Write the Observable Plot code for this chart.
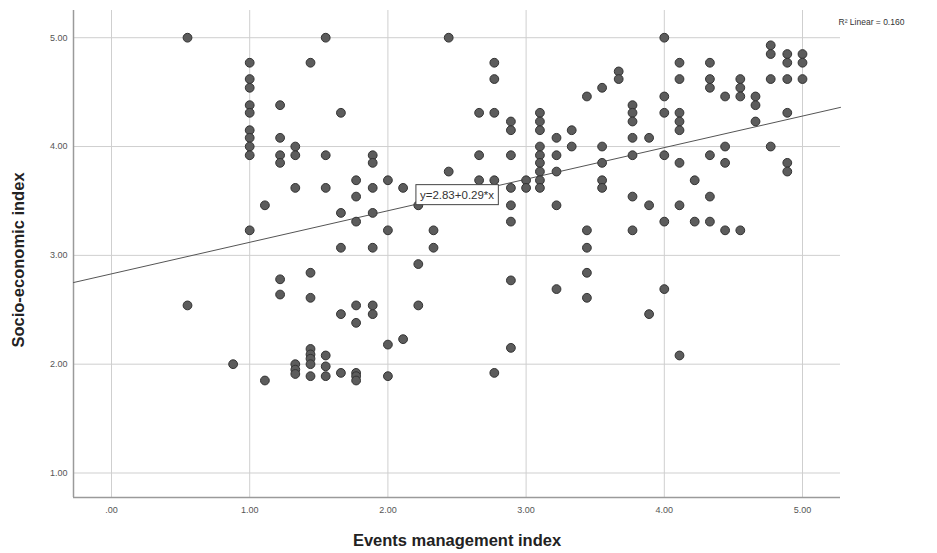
<!DOCTYPE html>
<html><head><meta charset="utf-8">
<script src="https://cdn.jsdelivr.net/npm/d3@7"></script>
<script src="https://cdn.jsdelivr.net/npm/@observablehq/plot@0.6"></script>
<style>body{margin:0;background:#fff} #chart{width:937px;height:553px}</style>
</head><body><div id="chart"></div>
<script>
// Events management index (x) and Socio-economic index (y), one entry per respondent
const eventsIndex = [
  0.55,0.55,
  0.88,
  1.00,1.00,1.00,1.00,1.00,1.00,1.00,1.00,1.00,1.00,
  1.11,1.11,
  1.22,1.22,1.22,1.22,1.22,1.22,
  1.33,1.33,1.33,1.33,1.33,1.33,
  1.44,1.44,1.44,1.44,1.44,1.44,1.44,1.44,
  1.55,1.55,1.55,1.55,1.55,1.55,
  1.66,1.66,1.66,1.66,1.66,
  1.77,1.77,1.77,1.77,1.77,1.77,1.77,1.77,
  1.89,1.89,1.89,1.89,1.89,1.89,1.89,
  2.00,2.00,2.00,2.00,
  2.11,2.11,
  2.22,2.22,2.22,
  2.33,2.33,
  2.44,2.44,
  2.66,2.66,2.66,
  2.77,2.77,2.77,2.77,2.77,
  2.89,2.89,2.89,2.89,2.89,2.89,2.89,2.89,
  3.00,3.00,
  3.10,3.10,3.10,3.10,3.10,3.10,3.10,3.10,3.10,
  3.22,3.22,3.22,3.22,3.22,
  3.33,3.33,
  3.44,3.44,3.44,3.44,3.44,
  3.55,3.55,3.55,3.55,3.55,
  3.67,3.67,
  3.77,3.77,3.77,3.77,3.77,3.77,3.77,
  3.89,3.89,3.89,
  4.00,4.00,4.00,4.00,4.00,4.00,
  4.11,4.11,4.11,4.11,4.11,4.11,4.11,4.11,
  4.22,4.22,
  4.33,4.33,4.33,4.33,4.33,4.33,
  4.44,4.44,4.44,4.44,
  4.55,4.55,4.55,4.55,
  4.66,4.66,4.66,
  4.77,4.77,4.77,4.77,
  4.89,4.89,4.89,4.89,4.89,4.89,
  5.00,5.00,5.00
];
const socioIndex = [
  5.00,2.54,
  2.00,
  4.77,4.62,4.54,4.38,4.31,4.15,4.08,4.00,3.92,3.23,
  3.46,1.85,
  4.38,4.08,3.92,3.85,2.78,2.64,
  4.00,3.92,3.62,2.00,1.95,1.91,
  4.77,2.84,2.61,2.14,2.09,2.05,2.00,1.89,
  5.00,3.92,3.62,2.08,1.98,1.89,
  4.31,3.39,3.07,2.46,1.92,
  3.69,3.54,3.31,2.54,2.38,1.92,1.89,1.85,
  3.92,3.85,3.62,3.39,3.07,2.54,2.46,
  3.69,3.23,2.18,1.89,
  3.62,2.23,
  3.46,2.92,2.54,
  3.23,3.07,
  5.00,3.77,
  4.31,3.92,3.69,
  4.77,4.62,4.31,3.69,1.92,
  4.23,4.15,3.92,3.62,3.46,3.31,2.77,2.15,
  3.69,3.62,
  4.31,4.23,4.15,4.00,3.92,3.85,3.77,3.69,3.62,
  4.08,3.92,3.77,3.46,2.69,
  4.15,4.00,
  4.46,3.23,3.07,2.84,2.61,
  4.54,4.00,3.85,3.69,3.62,
  4.69,4.62,
  4.38,4.31,4.23,4.08,3.92,3.54,3.23,
  4.08,3.46,2.46,
  5.00,4.46,4.31,3.92,3.31,2.69,
  4.77,4.62,4.31,4.23,4.15,3.85,3.46,2.08,
  3.69,3.31,
  4.77,4.62,4.54,3.92,3.54,3.31,
  4.46,4.00,3.85,3.23,
  4.62,4.54,4.46,3.23,
  4.46,4.38,4.23,
  4.93,4.85,4.62,4.00,
  4.85,4.77,4.62,4.31,3.85,3.77,
  4.85,4.77,4.62
];
const xTicks = [0, 1, 2, 3, 4, 5];
const yTicks = [1, 2, 3, 4, 5];
const fitIntercept = 2.83;
const fitSlope = 0.29;
const rSquared = 0.160;
const fitLabelX = 2.5;
const xTitle = "Events management index";
const yTitle = "Socio-economic index";

const xDomain = [-0.275, 5.275];
const yDomain = [0.775, 5.25];
const fmt = v => v === 0 ? ".00" : v.toFixed(2);
const font = "'Liberation Sans', Arial, sans-serif";

const points = eventsIndex.map((x, i) => ({x, y: socioIndex[i]}));
const fitLine = xDomain.map(x => ({x, y: fitIntercept + fitSlope * x}));
const fitLabel = [{x: fitLabelX, y: fitIntercept + fitSlope * fitLabelX,
  text: `y=${fitIntercept.toFixed(2)}+${fitSlope.toFixed(2)}*x`}];

const chart = Plot.plot({
  width: 937, height: 553,
  marginLeft: 73, marginRight: 97, marginTop: 10, marginBottom: 56,
  style: {fontFamily: font, background: "#fff", overflow: "visible"},
  x: {domain: xDomain},
  y: {domain: yDomain},
  marks: [
    Plot.gridX(xTicks, {stroke: "#cfcfcf", strokeOpacity: 1, strokeWidth: 1}),
    Plot.gridY(yTicks, {stroke: "#cfcfcf", strokeOpacity: 1, strokeWidth: 1}),
    Plot.axisX(xTicks, {tickSize: 0, tickPadding: 9, tickFormat: fmt, fontSize: 9, color: "#555", label: null}),
    Plot.axisY(yTicks, {tickSize: 0, tickPadding: 6, tickFormat: fmt, fontSize: 9, color: "#555", label: null}),
    Plot.ruleX([xDomain[0]], {stroke: "#9a9a9a", strokeWidth: 1.5}),
    Plot.ruleY([yDomain[0]], {stroke: "#9a9a9a", strokeWidth: 1.5}),
    Plot.line(fitLine, {x: "x", y: "y", stroke: "#555", strokeWidth: 1}),
    Plot.dot(points, {x: "x", y: "y", r: 4.4, fill: "#5c5c5c", stroke: "#333", strokeWidth: 1, fillOpacity: 1}),
    Plot.text(fitLabel, {x: "x", y: "y", text: "text", fontSize: 11.5, fill: "#333", fontFamily: font}),
    Plot.text([`R² Linear = ${rSquared.toFixed(3)}`], {frameAnchor: "top-right", textAnchor: "start", dx: -2, dy: 8, fontSize: 8.5, fill: "#333"}),
    Plot.text([xTitle], {frameAnchor: "bottom", textAnchor: "middle", dy: 48, fontSize: 16.5, fontWeight: "bold", fill: "#222"}),
    Plot.text([yTitle], {frameAnchor: "left", textAnchor: "middle", rotate: -90, dx: -55, dy: 6, fontSize: 16.5, fontWeight: "bold", fill: "#222"})
  ]
});
document.getElementById("chart").appendChild(chart);

// box around the fit equation label
d3.select(chart).selectAll("text").filter(function() { return this.textContent.startsWith("y="); })
  .each(function() {
    const b = this.getBBox();
    const g = this.parentNode;
    d3.select(g).insert("rect", () => this)
      .attr("x", b.x - 4).attr("y", b.y - 4)
      .attr("width", b.width + 8).attr("height", b.height + 8)
      .attr("fill", "#fff").attr("stroke", "#444").attr("stroke-width", 1)
      .attr("transform", this.getAttribute("transform"));
  });
</script>
</body></html>
